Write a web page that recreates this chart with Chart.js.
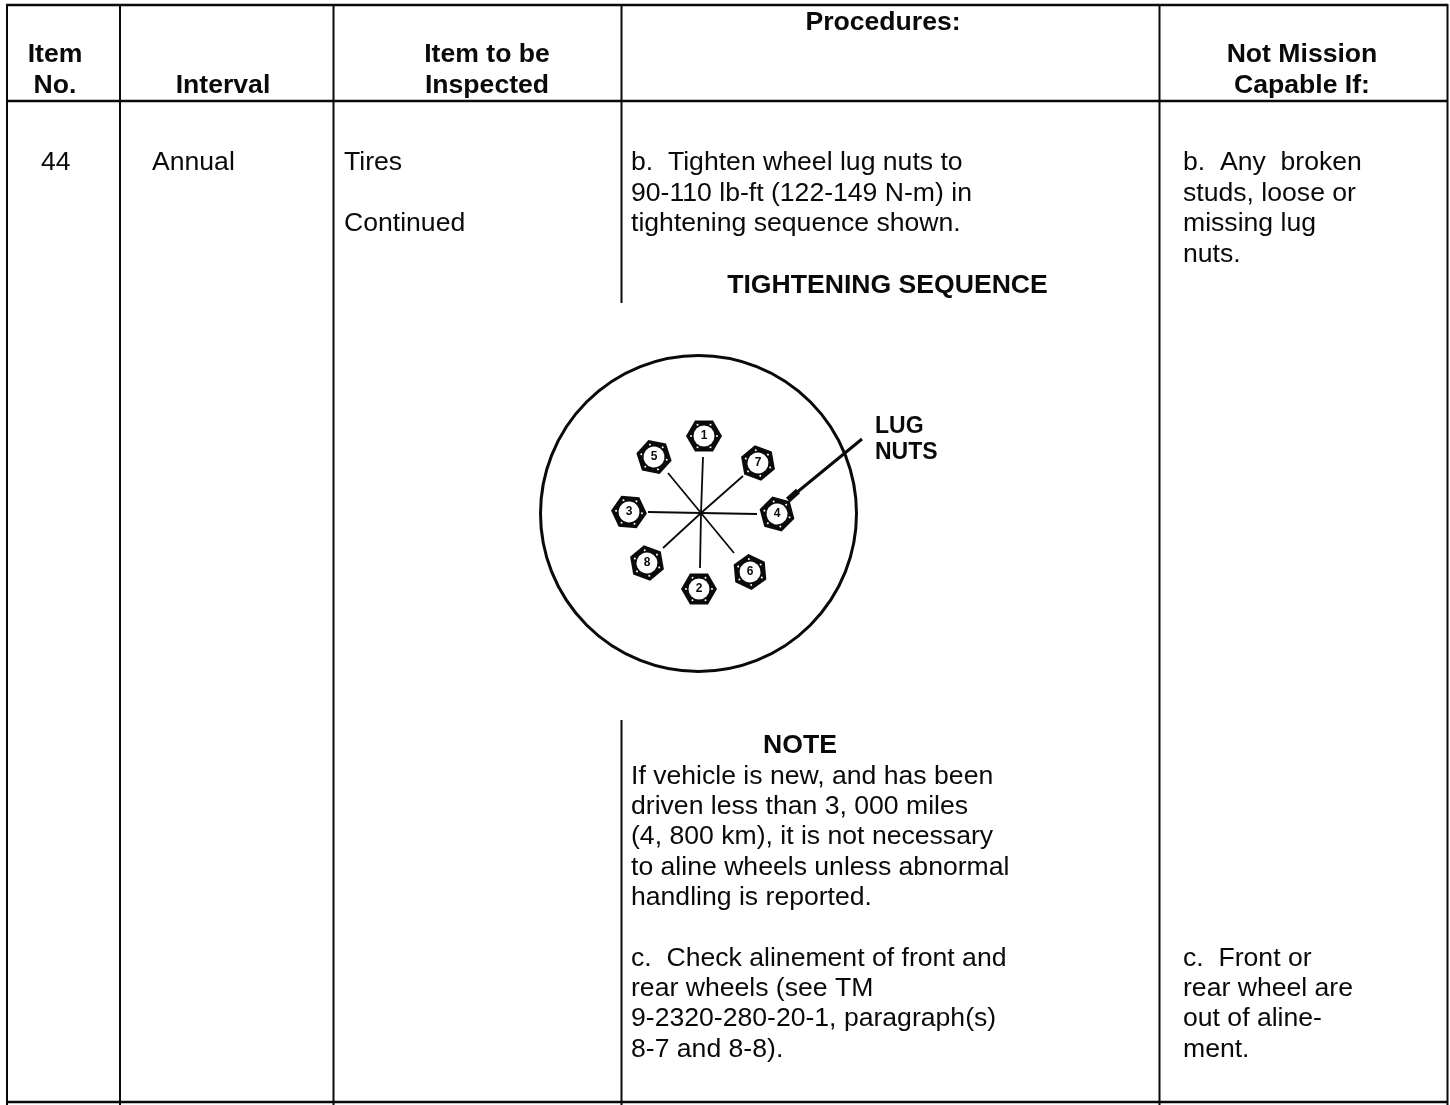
<!DOCTYPE html>
<html>
<head>
<meta charset="utf-8">
<title>Tires inspection table</title>
<script src="https://cdn.jsdelivr.net/npm/chart.js@4/dist/chart.umd.min.js"></script>
<style>
html, body { margin: 0; padding: 0; background: #fff; }
canvas { display: block; }
</style>
</head>
<body>
<canvas id="myChart" width="1450" height="1105"></canvas>
<script>
// table text
var headItem = ["Item", "No."];
var headInterval = ["Interval"];
var headInspected = ["Item to be", "Inspected"];
var headProcedures = ["Procedures:"];
var headNotMission = ["Not Mission", "Capable If:"];
var cellNo = ["44"];
var cellInterval = ["Annual"];
var cellInspected = ["Tires", "", "Continued"];
var procTighten = ["b.  Tighten wheel lug nuts to", "90-110 lb-ft (122-149 N-m) in", "tightening sequence shown."];
var procSequence = ["TIGHTENING SEQUENCE"];
var procNote = ["NOTE"];
var procNoteText = ["If vehicle is new, and has been", "driven less than 3, 000 miles", "(4, 800 km), it is not necessary", "to aline wheels unless abnormal", "handling is reported."];
var procAline = ["c.  Check alinement of front and", "rear wheels (see TM", "9-2320-280-20-1, paragraph(s)", "8-7 and 8-8)."];
var faultNuts = ["b.  Any  broken", "studs, loose or", "missing lug", "nuts."];
var faultAline = ["c.  Front or", "rear wheel are", "out of aline-", "ment."];
var calloutLug = ["LUG", "NUTS"];

// table rules
var ruleColumnX = [7, 120, 333.5, 1159.5, 1447.5];
var procRuleX = [621.5, 621.5];
var procRuleTop = [4, 720];
var procRuleBottom = [303, 1105];
var ruleRowY = [5, 101, 1102];
var ruleRowLeft = 6;
var ruleRowRight = 1448;

// wheel figure
var wheelX = [698.5];
var wheelY = [513.5];
var nutLabels = ["1", "5", "7", "3", "4", "8", "6", "2"];
var nutX = [704, 654, 758, 629, 777, 647, 750, 699];
var nutY = [436, 457, 463, 512, 514, 563, 572, 589];
var nutTurn = [0, 12, 20, 5, 15, 20, 25, 0];
var hubX = 701;
var hubY = 513;
var spokeX = [703, 668, 743, 648, 757, 663, 734, 700];
var spokeY = [457, 473, 476, 512, 514, 548, 553, 568];
var arrowX = [862, 790];
var arrowY = [439, 498];
var arrowHeadX = [798, 788];
var arrowHeadY = [491, 500];

var ink = "#0a0a0a";
var regular = "26.6px 'Liberation Sans', Arial, sans-serif";
var bold = "bold 26.6px 'Liberation Sans', Arial, sans-serif";

// where each block of text goes: x, first baseline, line height
var textBlocks = [
    { lines: headItem, x: 55, y: 62, step: 31, align: "center", font: bold },
    { lines: headInterval, x: 223, y: 93, step: 31, align: "center", font: bold },
    { lines: headInspected, x: 487, y: 62, step: 31, align: "center", font: bold },
    { lines: headProcedures, x: 883, y: 30, step: 31, align: "center", font: bold },
    { lines: headNotMission, x: 1302, y: 62, step: 31, align: "center", font: bold },
    { lines: cellNo, x: 41, y: 170, step: 30, align: "left", font: regular },
    { lines: cellInterval, x: 152, y: 170, step: 30, align: "left", font: regular },
    { lines: cellInspected, x: 344, y: 170, step: 30.5, align: "left", font: regular },
    { lines: procTighten, x: 631, y: 170, step: 30.5, align: "left", font: regular },
    { lines: procSequence, x: 887.5, y: 293, step: 30, align: "center", font: bold },
    { lines: procNote, x: 800, y: 753, step: 30, align: "center", font: bold },
    { lines: procNoteText, x: 631, y: 784, step: 30.2, align: "left", font: regular },
    { lines: procAline, x: 631, y: 966, step: 30.2, align: "left", font: regular },
    { lines: faultNuts, x: 1183, y: 170, step: 30.5, align: "left", font: regular },
    { lines: faultAline, x: 1183, y: 966, step: 30.2, align: "left", font: regular },
    { lines: calloutLug, x: 875, y: 433, step: 26, align: "left", font: "bold 23px 'Liberation Sans', Arial, sans-serif" }
];

function segment(x1, y1, x2, y2, width) {
    return {
        type: "scatter",
        data: [{ x: x1, y: y1 }, { x: x2, y: y2 }],
        showLine: true,
        borderColor: ink,
        borderWidth: width,
        pointRadius: 0
    };
}

// hexagon nut used as a point style, corners left and right like the drawing
function nutImage(turn) {
    var size = 44;
    var c = document.createElement("canvas");
    c.width = size;
    c.height = size;
    var g = c.getContext("2d");
    g.translate(size / 2, size / 2);
    g.rotate(turn * Math.PI / 180);
    g.fillStyle = ink;
    g.beginPath();
    for (var i = 0; i < 6; i++) {
        var a = i * Math.PI / 3;
        g.lineTo(18 * Math.cos(a), 18 * Math.sin(a));
    }
    g.closePath();
    g.fill();
    g.fillStyle = "#fff";
    g.beginPath();
    g.arc(0, 0, 10.5, 0, Math.PI * 2);
    g.fill();
    for (var j = 0; j < 6; j++) {
        var b = j * Math.PI / 3;
        g.beginPath();
        g.arc(13 * Math.cos(b), 13 * Math.sin(b), 1, 0, Math.PI * 2);
        g.fill();
    }
    return c;
}

var datasets = [];

// table rules
ruleColumnX.forEach(function (x) {
    datasets.push(segment(x, ruleRowY[0] - 1, x, 1105, 2));
});
procRuleX.forEach(function (x, i) {
    datasets.push(segment(x, procRuleTop[i], x, procRuleBottom[i], 2));
});
ruleRowY.forEach(function (y) {
    datasets.push(segment(ruleRowLeft, y, ruleRowRight, y, 2.4));
});

// figure
spokeX.forEach(function (x, i) {
    datasets.push(segment(hubX, hubY, x, spokeY[i], 1.8));
});
datasets.push(segment(arrowX[0], arrowY[0], arrowX[1], arrowY[1], 3));
datasets.push(segment(arrowHeadX[0], arrowHeadY[0], arrowHeadX[1], arrowHeadY[1], 6));
datasets.push({
    type: "scatter",
    data: wheelX.map(function (x, i) { return { x: x, y: wheelY[i] }; }),
    pointRadius: 158,
    pointBorderWidth: 3,
    pointBorderColor: ink,
    pointBackgroundColor: "rgba(0,0,0,0)"
});
datasets.push({
    type: "scatter",
    data: nutX.map(function (x, i) { return { x: x, y: nutY[i] }; }),
    pointStyle: nutTurn.map(nutImage)
});

var tablePlugin = {
    id: "tableText",
    afterDatasetsDraw: function (chart) {
        var ctx = chart.ctx;
        var sx = chart.scales.x;
        var sy = chart.scales.y;
        ctx.save();
        ctx.fillStyle = ink;
        ctx.textBaseline = "alphabetic";
        textBlocks.forEach(function (block) {
            ctx.font = block.font;
            ctx.textAlign = block.align;
            block.lines.forEach(function (line, i) {
                ctx.fillText(line, sx.getPixelForValue(block.x), sy.getPixelForValue(block.y + i * block.step));
            });
        });
        // numbers on the nuts
        ctx.font = "bold 12px 'Liberation Sans', Arial, sans-serif";
        ctx.textAlign = "center";
        ctx.textBaseline = "middle";
        nutLabels.forEach(function (label, i) {
            ctx.fillText(label, sx.getPixelForValue(nutX[i]), sy.getPixelForValue(nutY[i]));
        });
        ctx.restore();
    }
};

var chart = new Chart(document.getElementById("myChart").getContext("2d"), {
    type: "scatter",
    data: { datasets: datasets },
    options: {
        responsive: false,
        animation: false,
        layout: { padding: 0, autoPadding: false },
        plugins: { legend: { display: false }, tooltip: { enabled: false }, title: { display: false } },
        scales: {
            x: { type: "linear", min: 0, max: 1450, display: false },
            y: { type: "linear", min: 0, max: 1105, reverse: true, display: false }
        }
    },
    plugins: [tablePlugin]
});
</script>
</body>
</html>
